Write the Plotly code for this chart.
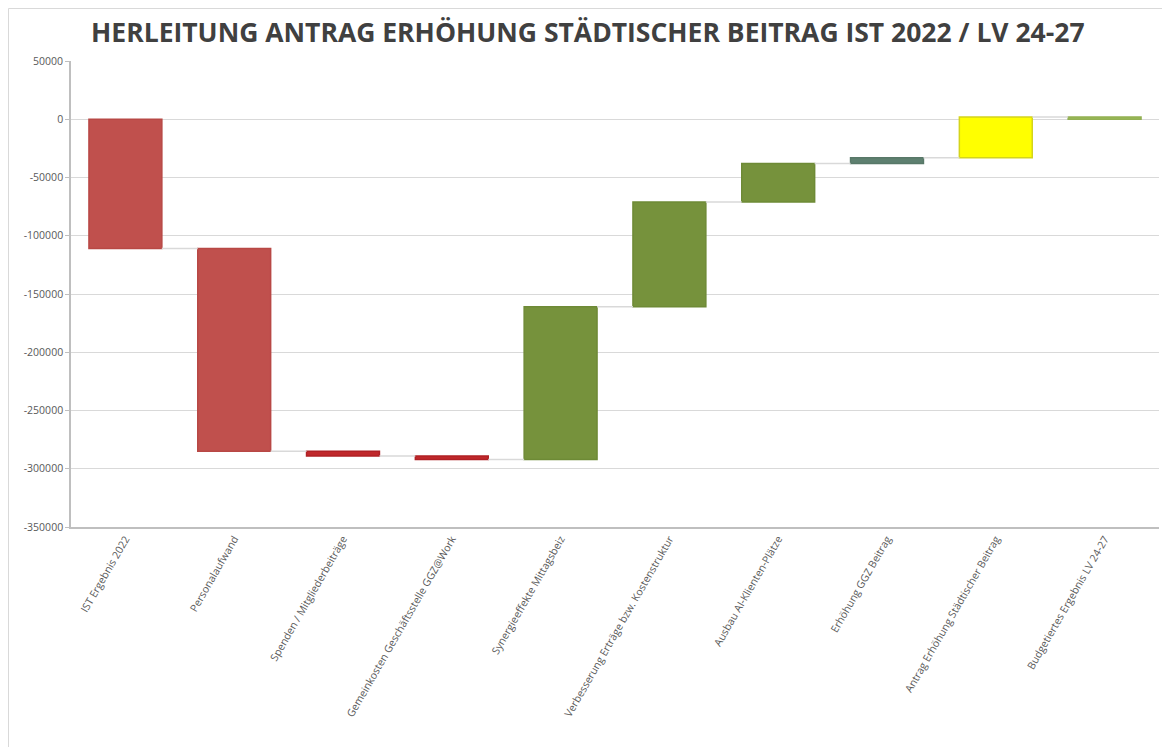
import plotly.graph_objects as go
import numpy as np

categories = [
    "IST Ergebnis 2022",
    "Personalaufwand",
    "Spenden / Mitgliederbeiträge",
    "Gemeinkosten Geschäftsstelle GGZ@Work",
    "Synergieeffekte Mittagsbeiz",
    "Verbesserung Erträge bzw. Kostenstruktur",
    "Ausbau AI-Klienten-Plätze",
    "Erhöhung GGZ Beitrag",
    "Antrag Erhöhung Städtischer Beitrag",
    "Budgetiertes Ergebnis LV 24-27",
]
changes = [-111000, -174000, -4000, -3000, 131000, 90000, 33000, 5000, 35000, 2000]
is_total = [True, False, False, False, False, False, False, False, False, True]
bar_colors = ["#C0504D", "#C0504D", "#C0282B", "#C0282B", "#76923C",
              "#76923C", "#76923C", "#5E8070", "#FFFF00", "#9BBB59"]
line_colors = ["#B84845", "#B84845", "#B02025", "#B02025", "#6E8A36",
               "#6E8A36", "#6E8A36", "#587868", "#D4D41C", "#92B052"]
y_ticks = [50000, 0, -50000, -100000, -150000, -200000, -250000, -300000, -350000]

# compute floating bar bases and ends
bases, heights, levels = [], [], []
running = 0
for v, tot in zip(changes, is_total):
    if tot:
        start = 0
        end = v
        running = v
    else:
        start = running
        end = running + v
        running = end
    bases.append(min(start, end))
    heights.append(abs(end - start))
    levels.append(end)

x = np.arange(len(categories))
bw = 0.67

W, H = 1162, 739
L, R, T, B = 63, 11, 53, 220
PW, PH = W - L - R, H - T - B

fig = go.Figure()
fig.add_trace(go.Bar(
    x=x, y=heights, base=bases, width=bw,
    marker=dict(color=bar_colors, line=dict(color=line_colors, width=1.5)),
    hoverinfo="skip", showlegend=False,
))

# connectors
cx, cy = [], []
for i in range(len(categories) - 1):
    cx += [i + bw / 2, i + 1 - bw / 2, None]
    cy += [levels[i], levels[i], None]
fig.add_trace(go.Scatter(x=cx, y=cy, mode="lines",
                         line=dict(color="#D9D9D9", width=1.5),
                         hoverinfo="skip", showlegend=False))

fig.update_layout(
    width=W, height=H,
    paper_bgcolor="white", plot_bgcolor="white",
    margin=dict(l=L, r=R, t=T, b=B, autoexpand=False),
    title=dict(text="<b>HERLEITUNG ANTRAG ERHÖHUNG STÄDTISCHER BEITRAG IST 2022 / LV 24-27</b>",
               x=0.499, xanchor="center", y=1 - 25 / H, yanchor="middle",
               font=dict(family="Open Sans", size=26.5, color="#404040")),
    font=dict(family="Open Sans", color="#595959"),
    xaxis=dict(range=[-0.5, 9.5], tickvals=list(x), ticktext=categories,
               tickangle=-60, tickfont=dict(size=10.5, color="#595959"),
               showgrid=False, showline=True, linecolor="#BFBFBF", linewidth=1.5,
               zeroline=False, ticks="", automargin=False),
    yaxis=dict(range=[-350000, 50000], tickvals=y_ticks,
               ticktext=[str(v) for v in y_ticks],
               tickfont=dict(size=10.5, color="#595959"),
               showgrid=True, gridcolor="#D9D9D9", gridwidth=1,
               showline=True, linecolor="#BFBFBF", linewidth=1.5,
               zeroline=False, ticks="outside", ticklen=4, tickcolor="#BFBFBF",
               automargin=False),
    shapes=[dict(type="rect", xref="paper", yref="paper",
                 x0=-(L - 0.5) / PW, x1=1 + (R + 5) / PW,
                 y0=-(B + 5) / PH, y1=1 + (T - 0.5) / PH,
                 line=dict(color="#D9D9D9", width=1), layer="below")],
)

fig.write_html("out.html")
